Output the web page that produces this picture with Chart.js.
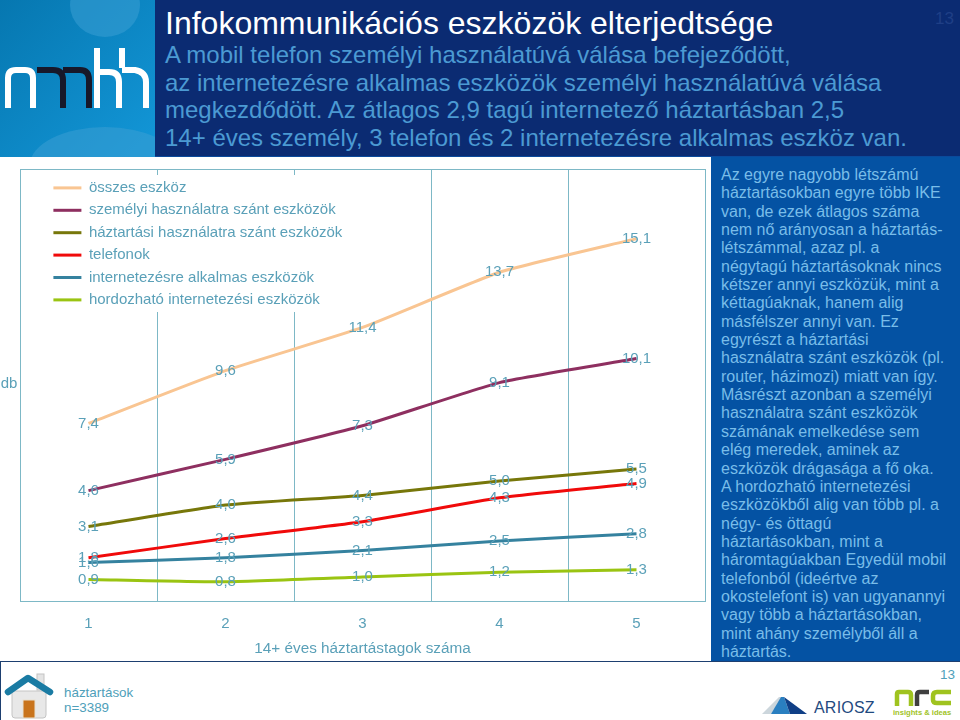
<!DOCTYPE html>
<html lang="hu">
<head>
<meta charset="utf-8">
<title>Infokommunikációs eszközök elterjedtsége</title>
<script src="https://cdn.jsdelivr.net/npm/chart.js@4"></script>
<style>
    html, body { margin: 0; padding: 0; background: #fff; }
    #page { position: relative; width: 960px; height: 720px; overflow: hidden; font-family: "Liberation Sans", Arial, sans-serif; background: #fff; }
    #page div, #page svg, #page canvas { position: absolute; }
    #logo { left: 0; top: 0; }
    #head { left: 155px; top: 0; width: 805px; height: 156px; background: #0b2b72; border-bottom: 1px solid #0a4a9c; }
    #title { left: 10px; top: 5px; font-size: 32px; line-height: 36px; color: #fff; white-space: nowrap; }
    #lead { left: 10px; top: 41px; font-size: 24px; line-height: 27.6px; color: #4b9ad3; white-space: nowrap; }
    #pageno { left: 780px; top: 9px; font-size: 17px; color: #1f3f86; }
    #side { left: 711px; top: 157px; width: 249px; height: 504px; background: #0452a3; }
    #side div { left: 10px; top: 9px; font-size: 16px; line-height: 18.35px; color: #79bde9; white-space: nowrap; }
    #chart { left: 0; top: 157px; }
    #foot { left: 0; top: 661px; width: 960px; height: 59px; border-top: 1px solid #1d3f70; box-sizing: border-box; }
    #edge { left: 0; top: 661px; width: 1px; height: 59px; background: #1d3f70; }
    #hh { left: 64px; top: 685px; font-size: 13.4px; line-height: 15px; color: #4f9fba; white-space: nowrap; }
    #no13 { left: 940px; top: 667px; font-size: 13.5px; color: #4f9fba; }
    #ariosz { left: 814px; top: 699px; font-size: 16px; color: #1f4a80; letter-spacing: 0.2px; }
    #insights { left: 893px; top: 708px; font-size: 7.6px; font-weight: bold; color: #9fc31f; white-space: nowrap; }
</style>
</head>
<body>
<div id="page">
    <svg id="logo" width="155" height="157" viewBox="0 0 155 157">
        <defs><linearGradient id="bg" x1="0" y1="0" x2="1" y2="1"><stop offset="0" stop-color="#0677b0"/><stop offset="1" stop-color="#1397d8"/></linearGradient></defs>
        <rect width="155" height="157" fill="url(#bg)"/>
        <ellipse cx="105" cy="5" rx="35" ry="32" fill="#3a9fd4" opacity="0.55"/>
        <ellipse cx="105" cy="165" rx="75" ry="38" fill="#3a9fd4" opacity="0.55"/>
        <g fill="none" stroke-width="6">
            <path stroke="#fff" d="M8 108V78Q8 70 16 70H25Q33 70 33 78V108"/>
            <path stroke="#17182a" d="M37 70H53Q63 70 63 80V108M63 70H80Q89 70 89 80V108"/>
            <path stroke="#fff" d="M97 48V108M97 72H109Q119 72 119 82V108M122 48V68M122 70H135Q146 72 146 82V108"/>
        </g>
    </svg>
    <div id="head">
        <div id="title">Infokommunikációs eszközök elterjedtsége</div>
        <div id="lead">A mobil telefon személyi használatúvá válása befejeződött,<br>az internetezésre alkalmas eszközök személyi használatúvá válása<br>megkezdődött. Az átlagos 2,9 tagú internetező háztartásban 2,5<br>14+ éves személy, 3 telefon és 2 internetezésre alkalmas eszköz van.</div>
        <div id="pageno">13</div>
    </div>
    <canvas id="chart" width="710" height="504"></canvas>
    <div id="side"><div>Az egyre nagyobb létszámú<br>háztartásokban egyre több IKE<br>van, de ezek átlagos száma<br>nem nő arányosan a háztartás-<br>létszámmal, azaz pl. a<br>négytagú háztartásoknak nincs<br>kétszer annyi eszközük, mint a<br>kéttagúaknak, hanem alig<br>másfélszer annyi van. Ez<br>egyrészt a háztartási<br>használatra szánt eszközök (pl.<br>router, házimozi) miatt van így.<br>Másrészt azonban a személyi<br>használatra szánt eszközök<br>számának emelkedése sem<br>elég meredek, aminek az<br>eszközök drágasága a fő oka.<br>A hordozható internetezési<br>eszközökből alig van több pl. a<br>négy- és öttagú<br>háztartásokban, mint a<br>háromtagúakban Egyedül mobil<br>telefonból (ideértve az<br>okostelefont is) van ugyanannyi<br>vagy több a háztartásokban,<br>mint ahány személyből áll a<br>háztartás.</div></div>
    <div id="foot"></div>
    <div id="edge"></div>
    <svg style="left:4px;top:672px" width="50" height="48" viewBox="0 0 50 48">
        <rect x="33" y="2" width="7" height="16" fill="#e4e4e4" stroke="#c4c4c4"/>
        <path d="M8 19H42V43Q42 46 39 46H11Q8 46 8 43Z" fill="#e8e8e8" stroke="#c4c4c4"/>
        <rect x="19" y="28" width="12" height="18" fill="#c9741c" stroke="#e7e0d0"/>
        <path d="M4 20L24 6L46 20" fill="none" stroke="#1a7ba3" stroke-width="6.5" stroke-linecap="round" stroke-linejoin="round"/>
    </svg>
    <div id="hh">háztartások<br>n=3389</div>
    <div id="no13">13</div>
    <svg style="left:760px;top:696px" width="50" height="20" viewBox="0 0 50 20">
        <path d="M2 18L19 1H24L11 18Z" fill="#ccd6dc"/>
        <path d="M11 18L21 1H24L30 18Z" fill="#2a7fc0"/>
        <path d="M24 1L47 18H30Z" fill="#103f86"/>
    </svg>
    <div id="ariosz">ARIOSZ</div>
    <svg style="left:893px;top:689px" width="60" height="18" viewBox="0 0 60 18">
        <g fill="none" stroke-width="4.5">
            <path stroke="#9fc31f" d="M4 17V5Q4 3 6 3H15Q18 3 18 6V17"/>
            <path stroke="#3f3f3f" d="M24 17V6Q24 3 27 3H36"/>
            <path stroke="#9fc31f" d="M58 3H44Q40 3 40 7V11Q40 14 44 14H58"/>
        </g>
    </svg>
    <div id="insights">insights &amp; ideas</div>
</div>
<script>
const categories = ['1', '2', '3', '4', '5'];
const seriesNames = ['összes eszköz', 'személyi használatra szánt eszközök', 'háztartási használatra szánt eszközök', 'telefonok', 'internetezésre alkalmas eszközök', 'hordozható internetezési eszközök'];
const osszes = [7.4, 9.6, 11.4, 13.7, 15.1];
const szemelyi = [4.6, 5.9, 7.3, 9.1, 10.1];
const haztartasi = [3.1, 4.0, 4.4, 5.0, 5.5];
const telefonok = [1.8, 2.6, 3.3, 4.3, 4.9];
const internetes = [1.6, 1.8, 2.1, 2.5, 2.8];
const hordozhato = [0.9, 0.8, 1.0, 1.2, 1.3];
const seriesValues = [osszes, szemelyi, haztartasi, telefonok, internetes, hordozhato];
const seriesColors = ['#f9c592', '#8e2f60', '#77770a', '#f00a0a', '#35829f', '#9ac412'];

const textColor = '#5aa0b8';
const frameColor = '#7db8c6';
const fontName = '"Liberation Sans", Arial, sans-serif';

// labels on the points, the legend box over the grid and the horizontal "db"
const extras = {
    id: 'extras',
    afterLayout(chart) {
        chart.legend.left = 46;
        chart.legend.top = 16;
    },
    beforeDatasetsDraw(chart) {
        const ctx = chart.ctx;
        ctx.save();
        ctx.fillStyle = '#fff';
        ctx.fillRect(30, 18, 370, 137);
        ctx.restore();
        chart.legend.draw();
    },
    afterDatasetsDraw(chart) {
        const ctx = chart.ctx;
        ctx.save();
        ctx.fillStyle = textColor;
        ctx.font = '15px ' + fontName;
        ctx.textAlign = 'center';
        ctx.textBaseline = 'middle';
        chart.data.datasets.forEach((ds, i) => {
            chart.getDatasetMeta(i).data.forEach((pt, j) => {
                ctx.fillText(ds.data[j].toFixed(1).replace('.', ','), pt.x, pt.y);
            });
        });
        ctx.fillText('db', 9, 227);
        ctx.restore();
    }
};

new Chart('chart', {
    type: 'line',
    plugins: [extras],
    data: {
        labels: categories,
        datasets: seriesNames.map((name, i) => ({
            label: name,
            data: seriesValues[i],
            borderColor: seriesColors[i],
            backgroundColor: seriesColors[i],
            borderWidth: 3,
            pointRadius: 0,
            tension: 0.15,
            borderCapStyle: 'butt'
        }))
    },
    options: {
        responsive: false,
        animation: false,
        layout: { padding: { top: 12, right: 5 } },
        plugins: {
            legend: {
                position: 'chartArea',
                align: 'start',
                labels: {
                    boxWidth: 28,
                    boxHeight: 3,
                    padding: 7.4,
                    color: textColor,
                    font: { size: 15, family: fontName },
                    generateLabels(chart) {
                        return Chart.defaults.plugins.legend.labels.generateLabels(chart).map(l => ({ ...l, lineWidth: 0 }));
                    }
                }
            },
            tooltip: { enabled: false }
        },
        scales: {
            x: {
                offset: true,
                afterFit(s) { s.height = 60; },
                grid: { color: frameColor, lineWidth: 1, drawTicks: false, offset: true },
                border: { color: frameColor, width: 1 },
                ticks: { color: textColor, padding: 14, font: { size: 15, family: fontName } },
                title: { display: true, text: '14+ éves háztartástagok száma', color: textColor, padding: { top: 0, bottom: 3 }, font: { size: 15.3, family: fontName } }
            },
            y: {
                min: 0,
                max: 18,
                afterFit(s) { s.width = 20; },
                grid: { color: frameColor, lineWidth: 1, drawTicks: false },
                border: { color: frameColor, width: 1 },
                ticks: { stepSize: 18, display: false }
            }
        }
    }
});
</script>
</body>
</html>
